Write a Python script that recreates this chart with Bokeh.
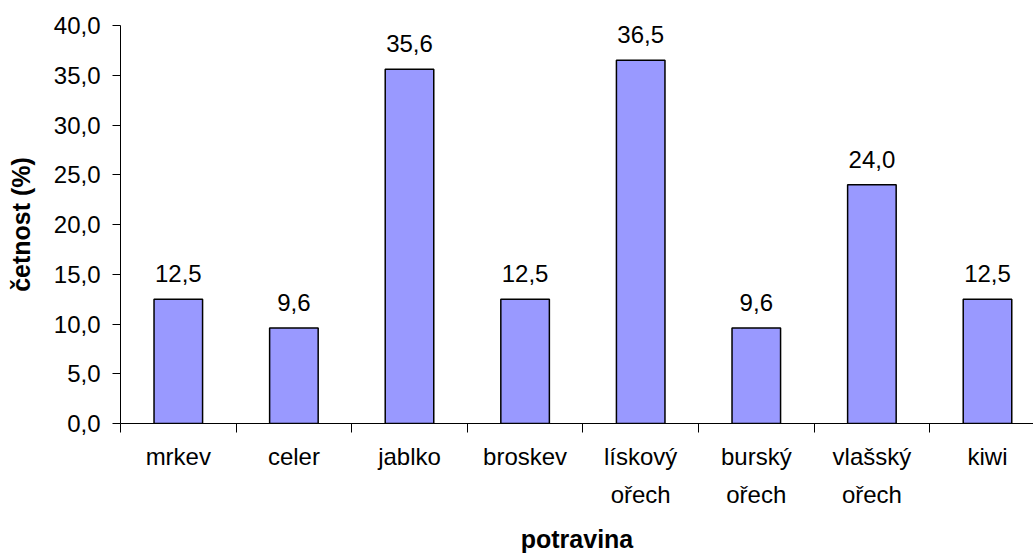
from bokeh.plotting import figure
from bokeh.models import FixedTicker, ColumnDataSource, LabelSet, Range1d
from bokeh.core.properties import value
from bokeh.embed import file_html
from bokeh.resources import INLINE

# Food categories (x) and share of respondents in percent (y)
foods = ["mrkev", "celer", "jablko", "broskev",
         "lískový\nořech", "burský\nořech", "vlašský\nořech", "kiwi"]
share = [12.5, 9.6, 35.6, 12.5, 36.5, 9.6, 24.0, 12.5]
y_ticks = [0, 5, 10, 15, 20, 25, 30, 35, 40]

FONT = "Liberation Sans"


def cz(v):
    return f"{v:.1f}".replace(".", ",")


centers = [i + 0.5 for i in range(len(foods))]
bounds = list(range(len(foods)))

src = ColumnDataSource(dict(
    x=centers,
    top=share,
    label=[cz(v) for v in share],
))

p = figure(
    width=1033, height=555,
    output_backend="svg", toolbar_location=None,
    x_range=Range1d(0, 7.898), y_range=Range1d(0, 40),
    min_border_left=120, min_border_right=0,
    min_border_top=25, min_border_bottom=131,
)
p.outline_line_color = None
p.xgrid.visible = False
p.ygrid.visible = False
p.background_fill_color = "white"
p.border_fill_color = "white"

p.vbar(x="x", top="top", width=0.42, source=src,
       fill_color="#9999FF", line_color="black", line_width=1.5)

p.add_layout(LabelSet(
    x="x", y="top", text="label", source=src,
    y_offset=17, text_align="center", text_baseline="alphabetic",
    text_font=value(FONT), text_font_size="24px", text_color="black",
))

# y axis
ya = p.yaxis[0]
ya.ticker = FixedTicker(ticks=y_ticks, minor_ticks=[])
ya.major_label_overrides = {t: cz(t) for t in y_ticks}
ya.major_tick_out = 8
ya.major_tick_in = 0
ya.minor_tick_out = 0
ya.minor_tick_in = 0
ya.major_label_standoff = 12
ya.major_label_text_font = FONT
ya.major_label_text_font_size = "24px"
ya.major_label_text_color = "black"
ya.axis_line_color = "black"
ya.axis_label = "četnost (%)"
ya.axis_label_text_font = FONT
ya.axis_label_text_font_size = "25px"
ya.axis_label_text_font_style = "bold"
ya.axis_label_text_color = "black"
ya.axis_label_standoff = 16

# x axis: labels at bar centres, tick marks at category boundaries
xa = p.xaxis[0]
xa.ticker = FixedTicker(ticks=centers, minor_ticks=bounds)
xa.major_label_overrides = {c: f for c, f in zip(centers, foods)}
xa.major_tick_out = 0
xa.major_tick_in = 0
xa.minor_tick_out = 9
xa.minor_tick_in = 0
xa.major_label_standoff = 10
xa.major_label_text_font = FONT
xa.major_label_text_font_size = "24px"
xa.major_label_text_color = "black"
xa.major_label_text_line_height = 1.42
xa.axis_line_color = "black"
xa.axis_label = "potravina"
xa.axis_label_text_font = FONT
xa.axis_label_text_font_size = "25px"
xa.axis_label_text_font_style = "bold"
xa.axis_label_text_color = "black"
xa.axis_label_standoff = 14

open("out.html", "w").write(file_html(p, INLINE))
